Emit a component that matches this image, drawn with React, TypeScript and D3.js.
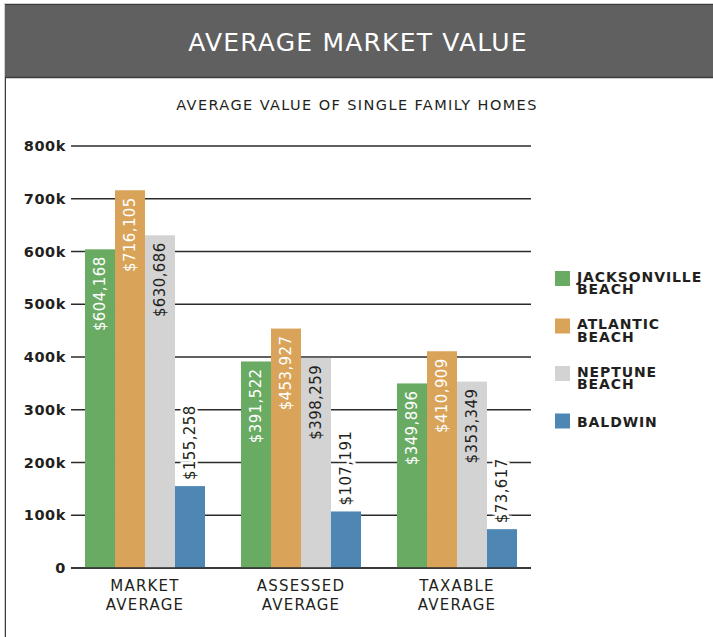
import React from "react";
import * as d3 from "d3";

const categories = ["MARKET|AVERAGE", "ASSESSED|AVERAGE", "TAXABLE|AVERAGE"];
const seriesNames = ["JACKSONVILLE|BEACH", "ATLANTIC|BEACH", "NEPTUNE|BEACH", "BALDWIN"];
const jacksonville = [604168, 391522, 349896];
const atlantic = [716105, 453927, 410909];
const neptune = [630686, 398259, 353349];
const baldwin = [155258, 107191, 73617];
const yTicks = [0, 100000, 200000, 300000, 400000, 500000, 600000, 700000, 800000];
const yTickLabels = ["0", "100k", "200k", "300k", "400k", "500k", "600k", "700k", "800k"];
const colors = ["#6aab64", "#d9a459", "#d3d3d3", "#4f87b4"];
const labelColors = ["#ffffff", "#ffffff", "#231f20", "#231f20"];

const W = 713;
const H = 637;
const FONT = "'DejaVu Sans', sans-serif";
const TEXT = "#231f20";

export default function App() {
  const series = [jacksonville, atlantic, neptune, baldwin];
  const x0 = d3
    .scaleBand<number>()
    .domain(d3.range(categories.length))
    .range([71, 531])
    .paddingInner(0.2308)
    .paddingOuter(0.0897);
  const x1 = d3
    .scaleBand<number>()
    .domain(d3.range(series.length))
    .range([0, x0.bandwidth()]);
  const y = d3.scaleLinear().domain([0, 800000]).range([568, 146]);
  const fmt = (v: number) => "$" + d3.format(",")(v);

  return (
    <svg
      width={W}
      height={H}
      style={{ position: "absolute", left: 0, top: 0, background: "#fff" }}
      fontFamily={FONT}
    >
      {/* frame */}
      <rect x={0} y={0} width={W} height={H} fill="#fff" />
      <line x1={4.5} y1={3} x2={4.5} y2={H} stroke="#cfcfcf" strokeWidth={1} />
      <line x1={5.5} y1={3} x2={5.5} y2={H} stroke="#3a3a3a" strokeWidth={1} />
      <line x1={4} y1={3.5} x2={W} y2={3.5} stroke="#cfcfcf" strokeWidth={1} />
      {/* header */}
      <rect x={5} y={4} width={W - 5} height={74} fill="#606060" />
      <line x1={5} y1={4.5} x2={W} y2={4.5} stroke="#3c3c3c" strokeWidth={1} />
      <line x1={5} y1={77.5} x2={W} y2={77.5} stroke="#3c3c3c" strokeWidth={1.5} />
      <text x={358} y={51} textAnchor="middle" fill="#fff" fontSize={25} letterSpacing={1.2}>
        AVERAGE MARKET VALUE
      </text>
      <text x={357} y={110} textAnchor="middle" fill={TEXT} fontSize={14.5} letterSpacing={1.4}>
        AVERAGE VALUE OF SINGLE FAMILY HOMES
      </text>

      {/* grid + y labels */}
      {yTicks.map((t, i) => (
        <g key={t}>
          <line x1={71} x2={531} y1={y(t)} y2={y(t)} stroke="#2b2b2b" strokeWidth={1.5} />
          <text
            x={66}
            y={y(t)}
            dy="0.36em"
            textAnchor="end"
            fill={TEXT}
            fontSize={14.5}
            fontWeight={600}
            letterSpacing={0.6}
          >
            {yTickLabels[i]}
          </text>
        </g>
      ))}

      {/* bars */}
      {categories.map((c, ci) => (
        <g key={c} transform={`translate(${x0(ci)},0)`}>
          {series.map((s, si) => (
            <rect
              key={si}
              x={x1(si)}
              y={y(s[ci])}
              width={x1.bandwidth()}
              height={y(0) - y(s[ci])}
              fill={colors[si]}
            />
          ))}
        </g>
      ))}
      {/* baseline on top */}
      <line x1={71} x2={531} y1={y(0)} y2={y(0)} stroke="#2b2b2b" strokeWidth={1.5} />

      {/* value labels */}
      {categories.map((c, ci) => (
        <g key={"l" + c} transform={`translate(${x0(ci)},0)`}>
          {series.map((s, si) => {
            const cx = (x1(si) as number) + x1.bandwidth() / 2;
            const top = y(s[ci]);
            const outside = si === 3;
            const ty = outside ? top - 6 : top + 7;
            return (
              <text
                key={si}
                transform={`translate(${cx},${ty}) rotate(-90)`}
                textAnchor={outside ? "start" : "end"}
                dy="0.36em"
                fill={labelColors[si]}
                fontSize={15}
                letterSpacing={0.4}
                stroke={outside ? "#fff" : "none"}
                strokeWidth={outside ? 5 : 0}
                paintOrder="stroke"
              >
                {fmt(s[ci])}
              </text>
            );
          })}
        </g>
      ))}

      {/* x labels */}
      {categories.map((c, ci) => {
        const cx = (x0(ci) as number) + x0.bandwidth() / 2;
        return (
          <text key={"x" + c} x={cx} y={591} textAnchor="middle" fill={TEXT} fontSize={15} letterSpacing={1.2}>
            {c.split("|").map((line, li) => (
              <tspan key={li} x={cx} dy={li === 0 ? 0 : 19}>
                {line}
              </tspan>
            ))}
          </text>
        );
      })}

      {/* legend */}
      {seriesNames.map((n, i) => {
        const ly = 271 + i * 47.5;
        const lines = n.split("|");
        return (
          <g key={n} transform={`translate(555,${ly})`}>
            <rect x={0} y={0} width={15} height={15} fill={colors[i]} />
            <text
              x={22}
              y={lines.length > 1 ? 10.5 : 13}
              fill={TEXT}
              fontSize={14}
              fontWeight={600}
              letterSpacing={0.9}
            >
              {lines.map((line, li) => (
                <tspan key={li} x={22} dy={li === 0 ? 0 : 12.5}>
                  {line}
                </tspan>
              ))}
            </text>
          </g>
        );
      })}
    </svg>
  );
}
